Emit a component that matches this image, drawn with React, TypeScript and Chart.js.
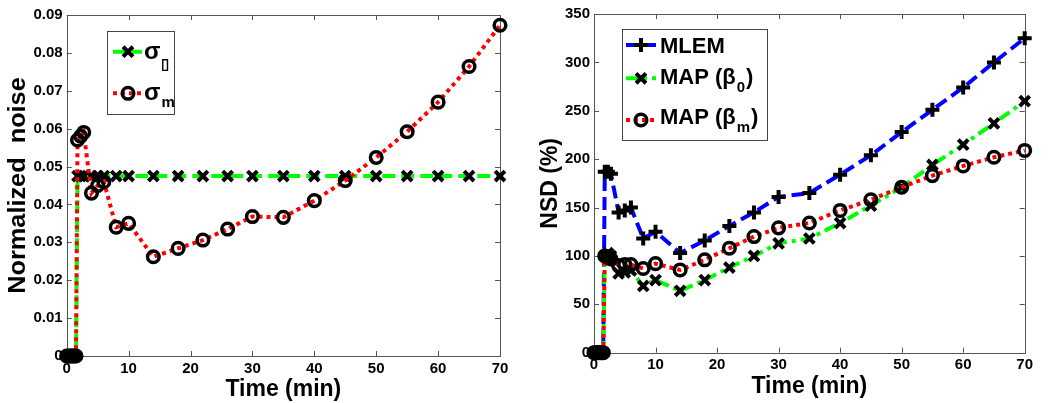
import React, { useEffect, useRef } from "react";
import { Chart, registerables } from "chart.js";

Chart.register(...registerables);

const FONT = "'Liberation Sans', Arial, Helvetica, sans-serif";

// ---- data ----
const times = [0, 0.25, 0.5, 0.75, 1, 1.25, 1.5, 1.75, 2.25, 2.75, 4, 5, 6, 8, 10, 14, 18, 22, 26, 30, 35, 40, 45, 50, 55, 60, 65, 70];

const sigma0 = [0, 0, 0, 0, 0, 0, 0, 0.0475, 0.0475, 0.0475, 0.0475, 0.0475, 0.0475, 0.0475, 0.0475, 0.0475, 0.0475, 0.0475, 0.0475, 0.0475, 0.0475, 0.0475, 0.0475, 0.0475, 0.0475, 0.0475, 0.0475, 0.0475];
const sigmaM = [0, 0, 0, 0, 0, 0, 0, 0.057, 0.058, 0.059, 0.043, 0.045, 0.046, 0.034, 0.035, 0.0262, 0.0284, 0.0306, 0.0335, 0.0368, 0.0366, 0.041, 0.0463, 0.0524, 0.0592, 0.067, 0.0764, 0.0873];

const mlem = [0, 0, 0, 0, 0, 0, 0, 187, 187, 185, 145, 147, 150, 118, 125, 103, 116, 131, 145, 161, 165, 184, 204, 228, 251, 274, 300, 325];
const mapB0 = [0, 0, 0, 0, 0, 0, 0, 100, 103, 100, 82, 83, 85, 69, 75, 64, 75, 88, 100, 113, 118, 134, 152, 171, 194, 215, 237, 260];
const mapBm = [0, 0, 0, 0, 0, 0, 0, 100, 99, 97, 90, 91, 91, 87, 92, 85.5, 96, 108, 120, 129, 134, 147, 158, 171, 183, 193, 202, 209];

const xTicks = [0, 10, 20, 30, 40, 50, 60, 70];
const leftYTicks = [0, 0.01, 0.02, 0.03, 0.04, 0.05, 0.06, 0.07, 0.08, 0.09];
const leftYLabels = ["0", "0.01", "0.02", "0.03", "0.04", "0.05", "0.06", "0.07", "0.08", "0.09"];
const rightYTicks = [0, 50, 100, 150, 200, 250, 300, 350];
const rightYLabels = ["0", "50", "100", "150", "200", "250", "300", "350"];

const leftTitleY = "Normalized  noise";
const rightTitleY = "NSD (%)";
const titleX = "Time (min)";

// ---- styles ----
const GREEN = "#00ff00";
const RED = "#ff0000";
const BLUE = "#0000ff";
const DASH = [13, 6];
const DOT = [4, 4];
const DASHDOT = [12, 5, 4, 5];
const LINE_W = 4;

type MarkerKind = "circle" | "crossRot" | "cross";

const markerProps: Record<MarkerKind, { r: number; w: number }> = {
  circle: { r: 5.8, w: 3.5 },
  crossRot: { r: 7, w: 4 },
  cross: { r: 7, w: 4 },
};

function drawMarker(ctx: CanvasRenderingContext2D, kind: MarkerKind, x: number, y: number) {
  const { r, w } = markerProps[kind];
  ctx.save();
  ctx.setLineDash([]);
  ctx.strokeStyle = "#000";
  ctx.lineWidth = w;
  ctx.beginPath();
  if (kind === "circle") {
    ctx.arc(x, y, r, 0, Math.PI * 2);
  } else if (kind === "cross") {
    ctx.moveTo(x - r, y);
    ctx.lineTo(x + r, y);
    ctx.moveTo(x, y - r);
    ctx.lineTo(x, y + r);
  } else {
    const d = r * Math.SQRT1_2;
    ctx.moveTo(x - d, y - d);
    ctx.lineTo(x + d, y + d);
    ctx.moveTo(x - d, y + d);
    ctx.lineTo(x + d, y - d);
  }
  ctx.stroke();
  ctx.restore();
}

type Series = { values: number[]; color: string; dash: number[]; marker: MarkerKind; order: number };

type LegendRow = {
  lineY: number;
  lineX0: number;
  lineX1: number;
  markerX: number;
  textX: number;
  baseline: number;
  main: string;
  mainSize: number;
  sub?: string;
  subSize?: number;
  subDy?: number;
  suffix?: string;
  color: string;
  dash: number[];
  marker: MarkerKind;
};

type PlotSpec = {
  width: number;
  height: number;
  yMin: number;
  yMax: number;
  yTicks: number[];
  yLabels: string[];
  yAxisW: number;
  xAxisH: number;
  padTop: number;
  padRight: number;
  series: Series[];
  legendBox: { x: number; y: number; w: number; h: number };
  legendRows: LegendRow[];
  yTitle: string;
  yTitleX: number;
  yTitleStretch: number;
  xTitleBaseline: number;
};

function makePlugins(spec: PlotSpec) {
  const frame = {
    id: "frame",
    beforeDatasetsDraw(chart: any) {
      const { ctx, chartArea } = chart;
      const { left, right, top, bottom } = chartArea;
      const xs = chart.scales.x;
      const ys = chart.scales.y;
      ctx.save();
      ctx.strokeStyle = "#555";
      ctx.lineWidth = 1;
      ctx.setLineDash([]);
      ctx.strokeRect(Math.round(left) + 0.5, Math.round(top) + 0.5, Math.round(right - left), Math.round(bottom - top));
      const tl = 5;
      ctx.beginPath();
      xTicks.forEach((v) => {
        const px = Math.round(xs.getPixelForValue(v)) + 0.5;
        ctx.moveTo(px, bottom);
        ctx.lineTo(px, bottom - tl);
        ctx.moveTo(px, top);
        ctx.lineTo(px, top + tl);
      });
      spec.yTicks.forEach((v) => {
        const py = Math.round(ys.getPixelForValue(v)) + 0.5;
        ctx.moveTo(left, py);
        ctx.lineTo(left + tl, py);
        ctx.moveTo(right, py);
        ctx.lineTo(right - tl, py);
      });
      ctx.stroke();
      ctx.restore();
    },
  };

  const overlay = {
    id: "overlay",
    afterDraw(chart: any) {
      const { ctx, chartArea } = chart;
      ctx.save();
      // legend
      const b = spec.legendBox;
      ctx.fillStyle = "#fff";
      ctx.fillRect(b.x, b.y, b.w, b.h);
      ctx.strokeStyle = "#444";
      ctx.lineWidth = 1;
      ctx.setLineDash([]);
      ctx.strokeRect(Math.round(b.x) + 0.5, Math.round(b.y) + 0.5, Math.round(b.w), Math.round(b.h));
      spec.legendRows.forEach((r) => {
        ctx.save();
        ctx.strokeStyle = r.color;
        ctx.lineWidth = LINE_W;
        ctx.setLineDash(r.dash);
        ctx.beginPath();
        ctx.moveTo(r.lineX0, r.lineY);
        ctx.lineTo(r.lineX1, r.lineY);
        ctx.stroke();
        ctx.restore();
        drawMarker(ctx, r.marker, r.markerX, r.lineY);
        ctx.fillStyle = "#000";
        ctx.textBaseline = "alphabetic";
        ctx.textAlign = "left";
        ctx.font = `bold ${r.mainSize}px ${FONT}`;
        ctx.fillText(r.main, r.textX, r.baseline);
        let x = r.textX + ctx.measureText(r.main).width + 1;
        if (r.sub) {
          ctx.font = `bold ${r.subSize}px ${FONT}`;
          ctx.fillText(r.sub, x, r.baseline + (r.subDy || 0));
          x += ctx.measureText(r.sub).width + 1;
        }
        if (r.suffix) {
          ctx.font = `bold ${r.mainSize}px ${FONT}`;
          ctx.fillText(r.suffix, x, r.baseline);
        }
      });
      // axis titles
      ctx.fillStyle = "#000";
      ctx.font = `bold 23px ${FONT}`;
      ctx.textAlign = "center";
      ctx.textBaseline = "alphabetic";
      const cx = (chartArea.left + chartArea.right) / 2;
      ctx.fillText(titleX, cx, spec.xTitleBaseline);
      const cy = (chartArea.top + chartArea.bottom) / 2;
      ctx.save();
      ctx.translate(spec.yTitleX, cy);
      ctx.rotate(-Math.PI / 2);
      ctx.scale(spec.yTitleStretch, 1);
      ctx.fillText(spec.yTitle, 0, 0);
      ctx.restore();
      ctx.restore();
    },
  };
  return [frame, overlay];
}

function Plot({ spec, left }: { spec: PlotSpec; left: number }) {
  const ref = useRef<HTMLCanvasElement | null>(null);
  useEffect(() => {
    const canvas = ref.current;
    if (!canvas) return;
    const tickFont = { family: FONT, weight: "bold" as const, size: 15, lineHeight: 1 };
    const chart = new Chart(canvas, {
      type: "line",
      data: {
        datasets: spec.series.map((s) => ({
          data: times.map((t, i) => ({ x: t, y: s.values[i] })),
          borderColor: s.color,
          borderWidth: LINE_W,
          borderDash: s.dash,
          tension: 0,
          fill: false,
          clip: false as any,
          order: s.order,
          pointStyle: s.marker,
          pointRadius: markerProps[s.marker].r,
          pointBorderWidth: markerProps[s.marker].w,
          pointBorderColor: "#000",
          pointBackgroundColor: "rgba(0,0,0,0)",
          pointHoverRadius: markerProps[s.marker].r,
        })),
      },
      options: {
        responsive: false,
        animation: false,
        devicePixelRatio: 1,
        events: [],
        layout: { padding: { top: spec.padTop, right: spec.padRight, left: 0, bottom: 0 } },
        plugins: { legend: { display: false }, tooltip: { enabled: false }, title: { display: false } },
        scales: {
          x: {
            type: "linear",
            min: 0,
            max: 70,
            afterBuildTicks: (s: any) => {
              s.ticks = xTicks.map((v) => ({ value: v }));
            },
            ticks: {
              font: tickFont,
              color: "#000",
              padding: 5,
              maxRotation: 0,
              autoSkip: false,
              callback: (v: any) => String(v),
            },
            grid: { display: false, drawTicks: false },
            border: { display: false },
            afterFit: (s: any) => {
              s.height = spec.xAxisH;
            },
          },
          y: {
            type: "linear",
            min: spec.yMin,
            max: spec.yMax,
            afterBuildTicks: (s: any) => {
              s.ticks = spec.yTicks.map((v) => ({ value: v }));
            },
            ticks: {
              font: tickFont,
              color: "#000",
              padding: 4,
              autoSkip: false,
              callback: (v: any) => {
                const i = spec.yTicks.findIndex((t) => Math.abs(t - Number(v)) < 1e-9);
                return i >= 0 ? spec.yLabels[i] : "";
              },
            },
            grid: { display: false, drawTicks: false },
            border: { display: false },
            afterFit: (s: any) => {
              s.width = spec.yAxisW;
            },
          },
        },
      },
      plugins: makePlugins(spec),
    });
    return () => chart.destroy();
  }, [spec]);
  return (
    <canvas
      ref={ref}
      width={spec.width}
      height={spec.height}
      style={{ position: "absolute", left, top: 0, width: spec.width, height: spec.height, display: "block" }}
    />
  );
}

const leftSpec: PlotSpec = {
  width: 525,
  height: 403,
  yMin: 0,
  yMax: 0.09,
  yTicks: leftYTicks,
  yLabels: leftYLabels,
  yAxisW: 66.7,
  xAxisH: 47,
  padTop: 15,
  padRight: 25,
  series: [
    { values: sigma0, color: GREEN, dash: DASH, marker: "crossRot", order: 2 },
    { values: sigmaM, color: RED, dash: DOT, marker: "circle", order: 1 },
  ],
  legendBox: { x: 107, y: 30.5, w: 67, h: 82.5 },
  legendRows: [
    { lineY: 51.7, lineX0: 113, lineX1: 142, markerX: 128, textX: 144, baseline: 58.5, main: "σ", mainSize: 24, sub: "▯", subSize: 15, subDy: 10, color: GREEN, dash: DASH, marker: "crossRot" },
    { lineY: 93.3, lineX0: 113, lineX1: 142, markerX: 128, textX: 144, baseline: 100, main: "σ", mainSize: 24, sub: "m", subSize: 15, subDy: 7, color: RED, dash: DOT, marker: "circle" },
  ],
  yTitle: leftTitleY,
  yTitleX: 25,
  yTitleStretch: 1.1,
  xTitleBaseline: 396,
};

const rightSpec: PlotSpec = {
  width: 525,
  height: 403,
  yMin: 0,
  yMax: 350,
  yTicks: rightYTicks,
  yLabels: rightYLabels,
  yAxisW: 69,
  xAxisH: 50.3,
  padTop: 14,
  padRight: 25.3,
  series: [
    { values: mlem, color: BLUE, dash: DASH, marker: "cross", order: 3 },
    { values: mapB0, color: GREEN, dash: DASHDOT, marker: "crossRot", order: 2 },
    { values: mapBm, color: RED, dash: DOT, marker: "circle", order: 1 },
  ],
  legendBox: { x: 96.7, y: 29, w: 145, h: 111 },
  legendRows: [
    { lineY: 45, lineX0: 101, lineX1: 131, markerX: 116, textX: 135, baseline: 53.3, main: "MLEM", mainSize: 22, color: BLUE, dash: DASH, marker: "cross" },
    { lineY: 78.3, lineX0: 101, lineX1: 131, markerX: 116, textX: 135, baseline: 84.3, main: "MAP (β", mainSize: 22, sub: "0", subSize: 15, subDy: 8, suffix: ")", color: GREEN, dash: DASHDOT, marker: "crossRot" },
    { lineY: 120, lineX0: 101, lineX1: 131, markerX: 116, textX: 135, baseline: 124.3, main: "MAP (β", mainSize: 22, sub: "m", subSize: 15, subDy: 8, suffix: ")", color: RED, dash: DOT, marker: "circle" },
  ],
  yTitle: rightTitleY,
  yTitleX: 32,
  yTitleStretch: 1,
  xTitleBaseline: 393,
};

export default function App() {
  return (
    <div style={{ position: "absolute", left: 0, top: 0, width: 1050, height: 403, background: "#fff", overflow: "hidden" }}>
      <Plot spec={leftSpec} left={0} />
      <Plot spec={rightSpec} left={525} />
    </div>
  );
}
